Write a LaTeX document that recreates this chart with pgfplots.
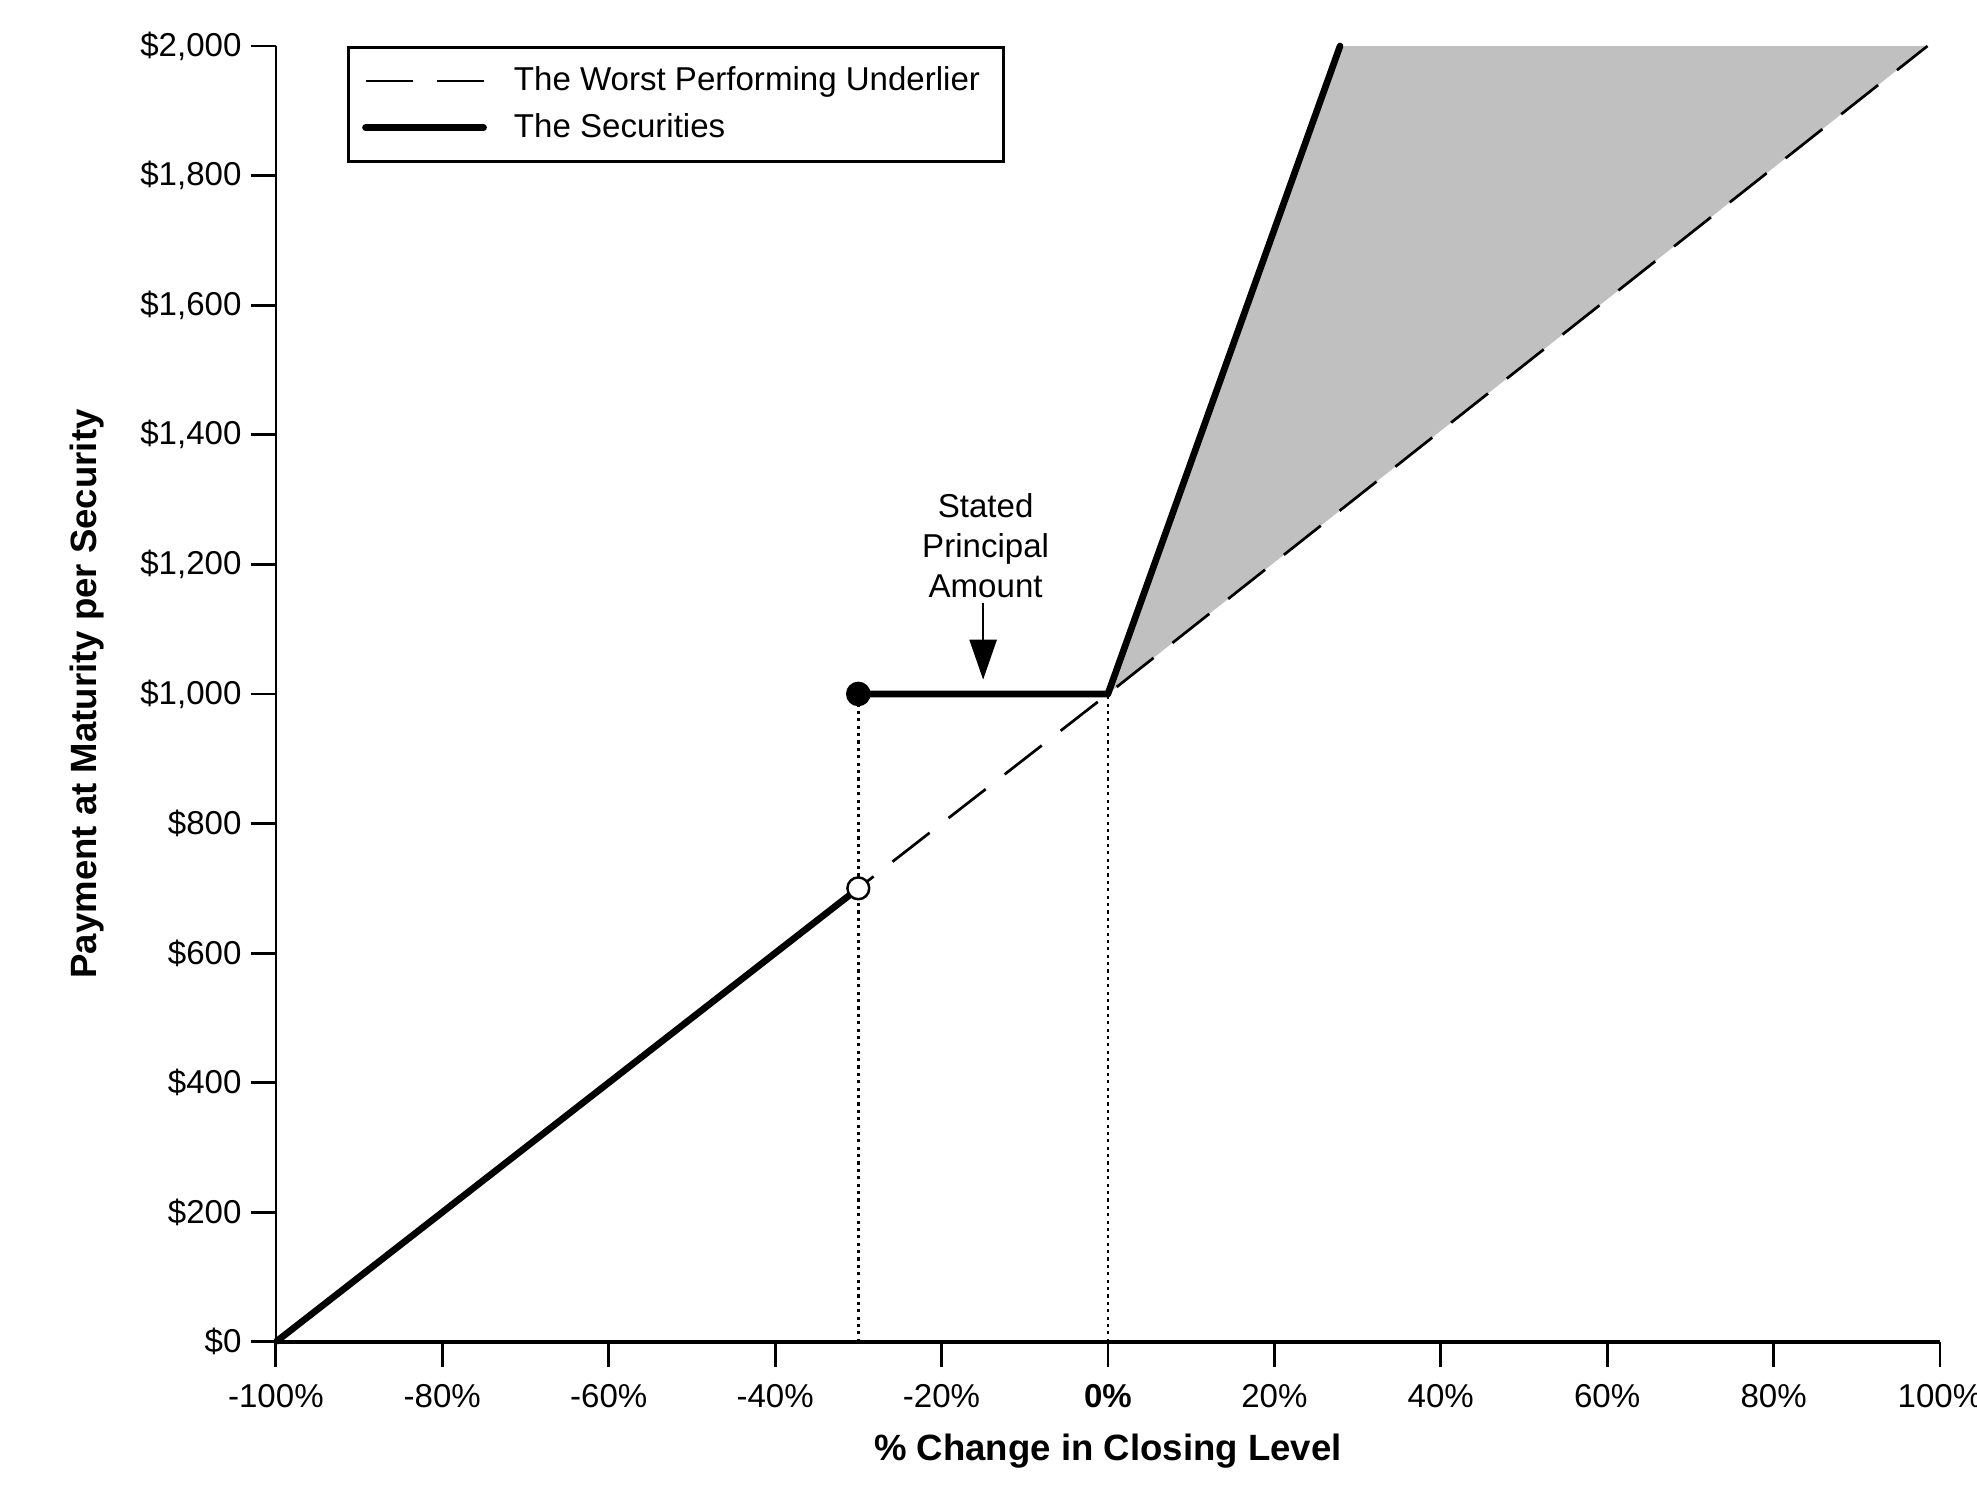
\documentclass[border=0pt]{standalone}
\usepackage{fontspec}
\setmainfont{Liberation Sans}
\usepackage{pgfplots}
\pgfplotsset{compat=1.18}
\usetikzlibrary{arrows.meta}
\definecolor{shade}{HTML}{C0C0C0}
\begin{document}
\begin{tikzpicture}
\begin{axis}[
 scale only axis, width=16.63cm, height=12.95cm,
 xmin=-100, xmax=100, ymin=0, ymax=2000,
 axis x line=bottom, axis y line=left,
 x axis line style={-, line width=1pt},
 y axis line style={-, line width=0.7pt},
 tick align=outside, major tick length=0.25cm,
 tick style={line width=0.8pt, black},
 xtick={-100,-80,...,100},
 xticklabels={-100\%,-80\%,-60\%,-40\%,-20\%,\textbf{0\%},20\%,40\%,60\%,80\%,100\%},
 ytick={0,200,...,2000},
 yticklabels={\$0,\$200,\$400,\$600,\$800,{\$1,000},{\$1,200},{\$1,400},{\$1,600},{\$1,800},{\$2,000}},
 ticklabel style={font=\fontsize{9.4}{11}\selectfont},
 xticklabel style={yshift=-0.05cm},
 yticklabel style={xshift=0.03cm},
 xlabel={\% Change in Closing Level},
 ylabel={Payment at Maturity per Security},
 xlabel style={at={(axis description cs:0.5,-0.0919)}, anchor=base, font=\fontsize{10.4}{12}\selectfont\bfseries},
 ylabel style={at={(axis description cs:-0.108,0.5)}, anchor=base, font=\fontsize{10.4}{12}\selectfont\bfseries},
 clip=false,
 legend style={at={(0.0429,1)}, anchor=north west, draw=black, line width=0.8pt,
   inner xsep=0.135cm, inner ysep=0.09cm, row sep=-0.025cm, column sep=0.17cm,
   font=\fontsize{9.4}{11}\selectfont, nodes={inner sep=0.1cm}},
 legend cell align=left,
 legend image code/.code={\draw[#1] (0cm,0cm) -- (1.18cm,0cm);},
]
\addplot[fill=shade, draw=none, forget plot] coordinates {(0,1000) (27.9,2000) (98.5,2000)} -- cycle;
\addplot[black, line width=0.77pt, dash pattern=on 0.47cm off 0.24cm, forget plot] coordinates {(-100,0) (0,1000) (98.5,2000)};
\addplot[black, line width=0.7pt, dash pattern=on 0.9pt off 1.2pt, forget plot] coordinates {(-30,0) (-30,1000)};
\addplot[black, line width=0.7pt, dash pattern=on 0.9pt off 1.2pt, forget plot] coordinates {(0,0) (0,1000)};
\addplot[black, line width=1.9pt, forget plot] coordinates {(-100,0) (-30,700)};
\addplot[black, line width=1.9pt, line cap=round, line join=round, forget plot] coordinates {(-30,1000) (0,1000) (27.9,2000)};
\addplot[only marks, mark=*, mark size=3.3pt, black, forget plot] coordinates {(-30,1000)};
\addplot[only marks, mark=*, mark size=3.1pt, mark options={fill=white, draw=black, line width=0.7pt}, forget plot] coordinates {(-30,700)};
\addlegendimage{black, line width=0.77pt, dash pattern=on 0.47cm off 0.24cm}
\addlegendentry{The Worst Performing Underlier}
\addlegendimage{black, line width=1.9pt, line cap=round}
\addlegendentry{The Securities}
\draw[black, line width=0.7pt, -{Triangle[length=0.4cm,width=0.27cm]}] (axis cs:-15,1141) -- (axis cs:-15,1022);
\node[align=center, anchor=south, inner sep=0pt, font=\fontsize{9.4}{11.4}\selectfont] at (axis cs:-14.7,1147.5) {Stated\\Principal\\Amount};
\coordinate (bbsw) at (rel axis cs:0,0);
\coordinate (bbne) at (rel axis cs:1,1);
\end{axis}
\pgfresetboundingbox
\path[use as bounding box] ([shift={(-2.757cm,-1.55cm)}]bbsw) rectangle ([shift={(0.37cm,0.46cm)}]bbne);
\end{tikzpicture}
\end{document}
